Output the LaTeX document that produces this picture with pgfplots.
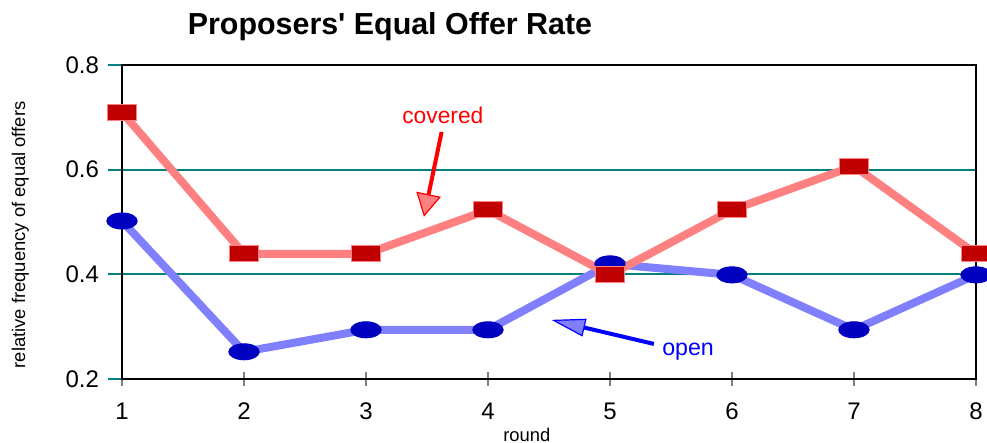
\documentclass[border=0pt]{standalone}
\usepackage{fontspec}
\setmainfont{Liberation Sans}
\usepackage{pgfplots}
\pgfplotsset{compat=1.18}
\usetikzlibrary{arrows.meta}
\definecolor{covline}{HTML}{FF8080}
\definecolor{covmark}{HTML}{C00000}
\definecolor{openline}{HTML}{8080FF}
\definecolor{openmark}{HTML}{0000C0}
\definecolor{gridteal}{HTML}{008080}
\begin{document}
\begin{tikzpicture}
\useasboundingbox (0,0) rectangle (493.5pt,221.5pt);
\begin{axis}[
  at={(61pt,32pt)}, anchor=south west,
  scale only axis, width=427pt, height=157pt,
  xmin=1, xmax=8, ymin=0.2, ymax=0.8,
  xtick={1,...,8}, ytick={0.2,0.4,0.6,0.8},
  clip=false,
  axis line style={black, line width=0.8pt},
  ymajorgrids, grid style={gridteal, line width=0.9pt},
  xtick pos=bottom, ytick pos=left,
  xtick align=center, ytick align=outside,
  major tick length=7pt,
  xtick style={gray, line width=0.6pt},
  ytick style={gridteal, line width=0.9pt},
  /pgf/number format/assume math mode=true,
  ticklabel style={font=\fontsize{12}{14}\selectfont},
  xticklabel style={yshift=-5pt},
  yticklabel style={xshift=-1pt, /pgf/number format/fixed, /pgf/number format/precision=1, /pgf/number format/fixed zerofill},
  xlabel={round}, ylabel={relative frequency of equal offers},
  label style={font=\fontsize{9.2}{11}\selectfont},
  xlabel style={at={(rel axis cs:0.474,-0.178)}, anchor=center},
  ylabel style={at={(rel axis cs:-0.119,0.459)}, anchor=center, rotate=0},
]
\addplot[openline, line width=4pt, mark=*, mark size=4pt,
  mark options={xscale=1.9, fill=openmark, draw=openmark, line width=0.5pt}]
  coordinates {(1,0.502) (2,0.252) (3,0.294) (4,0.294) (5,0.420) (6,0.399) (7,0.294) (8,0.399)};
\addplot[covline, line width=4pt, mark=square*, mark size=4pt,
  mark options={xscale=1.85, fill=covmark, draw=covline, line width=0.5pt}]
  coordinates {(1,0.710) (2,0.439) (3,0.439) (4,0.523) (5,0.399) (6,0.523) (7,0.607) (8,0.439)};
\draw[red, line width=2pt, -{Triangle[length=11.5pt, width=12.5pt, fill=covline, line width=0.6pt]}]
  (axis cs:3.62,0.672) -- (axis cs:3.475,0.510);
\draw[blue, line width=2pt, -{Triangle[length=17pt, width=9pt, fill=openline, line width=0.6pt]}]
  (axis cs:5.36,0.267) -- (axis cs:4.52,0.313);
\node[red, font=\fontsize{11.4}{13}\selectfont] at (axis cs:3.63,0.703) {covered};
\node[blue, font=\fontsize{11.6}{13}\selectfont] at (axis cs:5.64,0.252) {open};
\end{axis}
\node[font=\fontsize{15.2}{17}\selectfont\bfseries] at (195pt,208pt) {Proposers\textquotesingle{} Equal Offer Rate};
\end{tikzpicture}
\end{document}
